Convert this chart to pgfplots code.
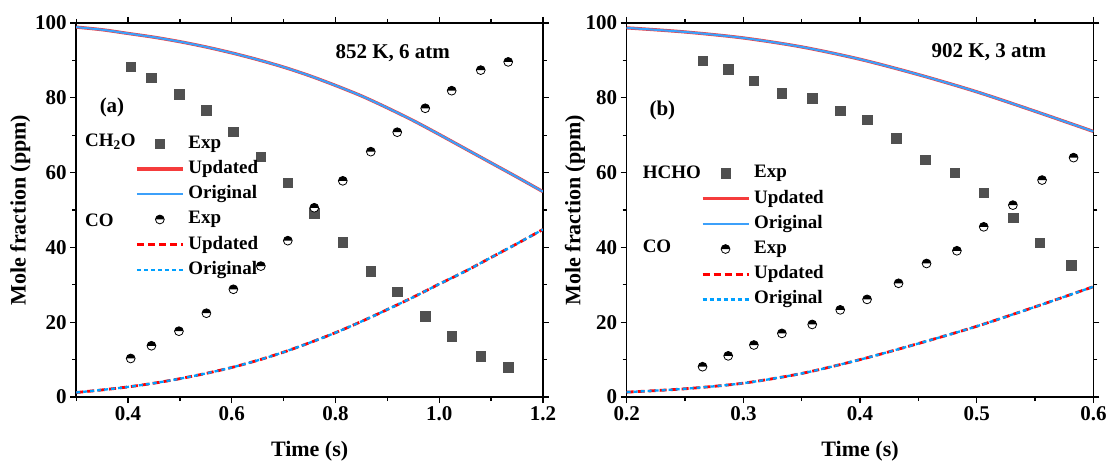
\documentclass[border=0pt]{standalone}
\usepackage{pgfplots}
\pgfplotsset{compat=1.18}
\usepackage{fontspec}
\setmainfont{Liberation Serif}
\definecolor{upd}{RGB}{245,60,60}
\definecolor{orig}{RGB}{60,160,250}
\definecolor{updd}{RGB}{255,0,0}
\definecolor{origd}{RGB}{0,160,255}
\definecolor{sq}{RGB}{80,80,80}
\pgfdeclareplotmark{halfcirc}{%
  \pgfpathcircle{\pgfpointorigin}{\pgfplotmarksize}%
  \pgfsetfillcolor{white}%
  \pgfusepathqfillstroke
  \pgfpathmoveto{\pgfqpoint{\pgfplotmarksize}{0pt}}%
  \pgfpatharc{0}{180}{\pgfplotmarksize}%
  \pgfpathclose
  \pgfsetfillcolor{black}%
  \pgfusepathqfill
}
\pgfplotsset{
  myax/.style={width=466.7bp,height=374bp,scale only axis,
    ymin=0,ymax=100,ytick={0,20,40,60,80,100},minor ytick={10,30,50,70,90},
    tick align=outside,major tick length=6bp,minor tick length=4bp,
    every tick/.style={black,line width=1.3bp},
    axis line style={line width=1.5bp},
    /pgf/number format/assume math mode=true,
    ticklabel style={font=\bfseries\fontsize{21bp}{25bp}\selectfont},
    x tick label style={/pgf/number format/.cd,fixed,fixed zerofill,precision=1},
    label style={font=\bfseries\fontsize{22bp}{26bp}\selectfont},
    xlabel={Time (s)},ylabel={Mole fraction (ppm)},
    xlabel style={at={(axis description cs:0.5,-0.145)},anchor=center},
    legend cell align=left,
    legend style={draw=none,fill=none,inner sep=0pt,row sep=0pt,column sep=0pt,
      font=\bfseries\fontsize{19bp}{22bp}\selectfont,
      nodes={inner xsep=4bp,inner ysep=3.6bp,text height=13.5bp,text depth=4.5bp},
      anchor=north west},
  },
  lineleg/.style={legend image code/.code={\draw[##1] (0bp,0bp) -- (46bp,0bp);}},
  markleg/.style={legend image code/.code={\draw[##1] plot coordinates {(23bp,0bp)};}},
  sqs/.style={only marks,mark=square*,mark size=4.8bp,color=sq,markleg},
  cirs/.style={only marks,mark=halfcirc,mark size=4.4bp,color=black,mark options={line width=0.8bp},markleg},
  updl/.style={color=upd,line width=3.2bp,smooth,lineleg},
  origl/.style={color=orig,line width=2.1bp,smooth,lineleg},
  updld/.style={color=updd,line width=2.8bp,dash pattern=on 7bp off 4bp,smooth,lineleg},
  origld/.style={color=origd,line width=2.3bp,dash pattern=on 4bp off 3bp,smooth,lineleg},
}
\begin{document}
\begin{tikzpicture}
\useasboundingbox (-76.25bp,-67bp) rectangle (1030.75bp,397bp);
\begin{axis}[myax,at={(0bp,0bp)},anchor=south west,
  xmin=0.3,xmax=1.2,xtick={0.4,0.6,0.8,1.0,1.2},minor xtick={0.3,0.5,0.7,0.9,1.1},
  ylabel style={at={(axis description cs:-0.12,0.5)},anchor=center},
  legend style={at={(rel axis cs:0.126,0.711)}}]
\addplot[sqs] coordinates {(0.405,88.3)(0.445,85.4)(0.498,81.0)(0.551,76.7)(0.603,70.9)(0.656,64.3)(0.708,57.3)(0.759,49.1)(0.814,41.4)(0.868,33.7)(0.919,28.2)(0.973,21.6)(1.024,16.3)(1.08,10.9)(1.133,8.0)};
\addlegendentry{Exp}
\addplot[updl] coordinates {(0.3,98.9)(0.35,98.2)(0.4,97.2)(0.45,96.2)(0.5,95.0)(0.55,93.6)(0.6,92.0)(0.65,90.2)(0.7,88.2)(0.75,85.9)(0.8,83.3)(0.85,80.5)(0.9,77.3)(0.95,73.9)(1.0,70.2)(1.05,66.4)(1.1,62.6)(1.15,58.8)(1.2,54.9)};
\addlegendentry{Updated}
\addplot[origl] coordinates {(0.3,98.9)(0.35,98.2)(0.4,97.2)(0.45,96.2)(0.5,95.0)(0.55,93.6)(0.6,92.0)(0.65,90.2)(0.7,88.2)(0.75,85.9)(0.8,83.3)(0.85,80.5)(0.9,77.3)(0.95,73.9)(1.0,70.2)(1.05,66.4)(1.1,62.6)(1.15,58.8)(1.2,54.9)};
\addlegendentry{Original}
\addplot[cirs] coordinates {(0.405,10.3)(0.445,13.7)(0.498,17.6)(0.551,22.4)(0.603,28.8)(0.656,35.0)(0.708,41.8)(0.759,50.6)(0.814,57.8)(0.868,65.6)(0.919,70.8)(0.973,77.2)(1.024,81.9)(1.08,87.4)(1.133,89.6)};
\addlegendentry{Exp}
\addplot[updld] coordinates {(0.3,1.2)(0.35,1.9)(0.4,2.7)(0.45,3.7)(0.5,4.9)(0.55,6.3)(0.6,7.9)(0.65,9.8)(0.7,12.0)(0.75,14.5)(0.8,17.2)(0.85,20.2)(0.9,23.4)(0.95,26.7)(1.0,30.2)(1.05,33.6)(1.1,37.3)(1.15,41.0)(1.2,44.8)};
\addlegendentry{Updated}
\addplot[origld] coordinates {(0.3,1.2)(0.35,1.9)(0.4,2.7)(0.45,3.7)(0.5,4.9)(0.55,6.3)(0.6,7.9)(0.65,9.8)(0.7,12.0)(0.75,14.5)(0.8,17.2)(0.85,20.2)(0.9,23.4)(0.95,26.7)(1.0,30.2)(1.05,33.6)(1.1,37.3)(1.15,41.0)(1.2,44.8)};
\addlegendentry{Original}
\node[font=\bfseries\fontsize{21bp}{25bp}\selectfont] at (rel axis cs:0.0766,0.775) {(a)};
\node[font=\bfseries\fontsize{21bp}{25bp}\selectfont] at (rel axis cs:0.678,0.919) {852 K, 6 atm};
\node[anchor=west,inner sep=0pt,font=\bfseries\fontsize{19bp}{22bp}\selectfont] at (rel axis cs:0.0187,0.683) {CH\textsubscript{2}O};
\node[anchor=west,inner sep=0pt,font=\bfseries\fontsize{19bp}{22bp}\selectfont] at (rel axis cs:0.0187,0.473) {CO};
\end{axis}
\begin{axis}[myax,at={(550.45bp,0bp)},anchor=south west,
  xmin=0.2,xmax=0.6,xtick={0.2,0.3,0.4,0.5,0.6},minor xtick={0.25,0.35,0.45,0.55},
  ylabel style={at={(axis description cs:-0.111,0.5)},anchor=center},
  legend style={at={(rel axis cs:0.1586,0.632)}}]
\addplot[sqs] coordinates {(0.265,89.9)(0.287,87.6)(0.309,84.6)(0.333,81.2)(0.359,79.9)(0.383,76.5)(0.406,74.1)(0.431,69.2)(0.456,63.4)(0.481,60.0)(0.506,54.6)(0.531,47.9)(0.554,41.3)(0.581,35.3)};
\addlegendentry{Exp}
\addplot[updl] coordinates {(0.2,98.7)(0.25,97.6)(0.3,96.0)(0.35,93.6)(0.4,90.3)(0.45,86.2)(0.5,81.6)(0.55,76.4)(0.6,71.0)};
\addlegendentry{Updated}
\addplot[origl] coordinates {(0.2,98.7)(0.25,97.6)(0.3,96.0)(0.35,93.6)(0.4,90.3)(0.45,86.2)(0.5,81.6)(0.55,76.4)(0.6,71.0)};
\addlegendentry{Original}
\addplot[cirs] coordinates {(0.265,8.1)(0.287,11.0)(0.309,13.9)(0.333,17.0)(0.359,19.4)(0.383,23.3)(0.406,26.1)(0.433,30.4)(0.457,35.7)(0.483,39.1)(0.506,45.5)(0.531,51.3)(0.556,58.0)(0.583,64.0)};
\addlegendentry{Exp}
\addplot[updld] coordinates {(0.2,1.3)(0.25,2.2)(0.3,3.7)(0.35,6.3)(0.4,10.0)(0.45,14.3)(0.5,18.9)(0.55,24.1)(0.6,29.5)};
\addlegendentry{Updated}
\addplot[origld] coordinates {(0.2,1.3)(0.25,2.2)(0.3,3.7)(0.35,6.3)(0.4,10.0)(0.45,14.3)(0.5,18.9)(0.55,24.1)(0.6,29.5)};
\addlegendentry{Original}
\node[font=\bfseries\fontsize{21bp}{25bp}\selectfont] at (rel axis cs:0.0765,0.767) {(b)};
\node[font=\bfseries\fontsize{21bp}{25bp}\selectfont] at (rel axis cs:0.776,0.922) {902 K, 3 atm};
\node[anchor=west,inner sep=0pt,font=\bfseries\fontsize{19bp}{22bp}\selectfont] at (rel axis cs:0.034,0.601) {HCHO};
\node[anchor=west,inner sep=0pt,font=\bfseries\fontsize{19bp}{22bp}\selectfont] at (rel axis cs:0.034,0.404) {CO};
\end{axis}
\end{tikzpicture}
\end{document}
